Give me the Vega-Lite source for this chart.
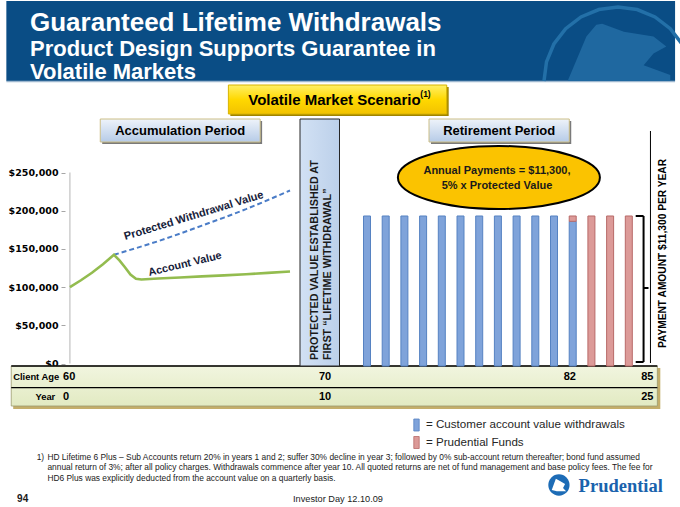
{
  "$schema": "https://vega.github.io/schema/vega-lite/v6.json",
  "width": 680,
  "height": 507,
  "padding": 0,
  "background": "#ffffff",
  "title": {
    "text": "Guaranteed Lifetime Withdrawals",
    "subtitle": ["Product Design Supports Guarantee in", "Volatile Markets"],
    "anchor": "start",
    "frame": "group",
    "dx": 30,
    "offset": -83,
    "font": "Liberation Sans",
    "fontSize": 26,
    "fontWeight": "bold",
    "color": "#ffffff",
    "subtitleFont": "Liberation Sans",
    "subtitleFontSize": 22,
    "subtitleFontWeight": "bold",
    "subtitleColor": "#ffffff",
    "subtitleLineHeight": 23,
    "subtitlePadding": 3
  },
  "config": {"view": {"stroke": null, "fill": "#ffffff"}, "text": {"font": "Liberation Sans"}, "axisX": {"disable": true}},
  "datasets": {
    "lines": [
      {"series": "Account Value", "year": 0, "value": 100000},
      {"series": "Account Value", "year": 0.5, "value": 109000},
      {"series": "Account Value", "year": 1, "value": 118800},
      {"series": "Account Value", "year": 1.5, "value": 130000},
      {"series": "Account Value", "year": 2, "value": 142300},
      {"series": "Account Value", "year": 2.25, "value": 135000},
      {"series": "Account Value", "year": 2.5, "value": 126000},
      {"series": "Account Value", "year": 2.75, "value": 116500},
      {"series": "Account Value", "year": 3, "value": 111000},
      {"series": "Account Value", "year": 3.25, "value": 109900},
      {"series": "Account Value", "year": 4, "value": 111200},
      {"series": "Account Value", "year": 5, "value": 112600},
      {"series": "Account Value", "year": 6, "value": 114000},
      {"series": "Account Value", "year": 7, "value": 115400},
      {"series": "Account Value", "year": 8, "value": 116900},
      {"series": "Account Value", "year": 9, "value": 118600},
      {"series": "Account Value", "year": 10, "value": 120400},
      {"series": "Protected Withdrawal Value", "year": 2, "value": 142300},
      {"series": "Protected Withdrawal Value", "year": 3, "value": 151000},
      {"series": "Protected Withdrawal Value", "year": 4, "value": 160000},
      {"series": "Protected Withdrawal Value", "year": 5, "value": 170000},
      {"series": "Protected Withdrawal Value", "year": 6, "value": 180500},
      {"series": "Protected Withdrawal Value", "year": 7, "value": 191000},
      {"series": "Protected Withdrawal Value", "year": 8, "value": 202000},
      {"series": "Protected Withdrawal Value", "year": 9, "value": 214000},
      {"series": "Protected Withdrawal Value", "year": 10, "value": 226500}
    ],
    "bars": [
      {"year": 11, "source": "Customer account value withdrawals", "amount": 11300},
      {"year": 12, "source": "Customer account value withdrawals", "amount": 11300},
      {"year": 13, "source": "Customer account value withdrawals", "amount": 11300},
      {"year": 14, "source": "Customer account value withdrawals", "amount": 11300},
      {"year": 15, "source": "Customer account value withdrawals", "amount": 11300},
      {"year": 16, "source": "Customer account value withdrawals", "amount": 11300},
      {"year": 17, "source": "Customer account value withdrawals", "amount": 11300},
      {"year": 18, "source": "Customer account value withdrawals", "amount": 11300},
      {"year": 19, "source": "Customer account value withdrawals", "amount": 11300},
      {"year": 20, "source": "Customer account value withdrawals", "amount": 11300},
      {"year": 21, "source": "Customer account value withdrawals", "amount": 11300},
      {"year": 22, "source": "Customer account value withdrawals", "amount": 10900},
      {"year": 22, "source": "Prudential Funds", "amount": 400},
      {"year": 23, "source": "Prudential Funds", "amount": 11300},
      {"year": 24, "source": "Prudential Funds", "amount": 11300},
      {"year": 25, "source": "Prudential Funds", "amount": 11300}
    ]
  },
  "layer": [
    {
      "data": {"values": [{}]},
      "layer": [
        {
          "mark": {"type": "rect", "color": "#0a4d85"},
          "encoding": {
            "x": {"datum": -2.889, "scale": {"type": "linear", "domain": [0, 10, 11, 25], "range": [65, 290, 367, 633], "zero": false, "nice": false}},
            "x2": {"datum": 27.474},
            "y": {"datum": 474513, "scale": {"domain": [-189150, 474513], "zero": false, "nice": false},
              "axis": {"orient": "left", "offset": -65, "values": [0, 50000, 100000, 150000, 200000, 250000], "format": "$,d", "domain": false, "grid": false, "tickSize": 4, "tickColor": "#a6a6a6", "labelPadding": 3, "labelFont": "DejaVu Sans", "labelFontWeight": "bold", "labelFontSize": 9.5, "labelColor": "#000000", "title": null}},
            "y2": {"datum": 369793}
          }
        },
        {
          "mark": {"type": "rule", "color": "#9db7cf", "strokeWidth": 1.5},
          "encoding": {"x": {"datum": -2.889}, "x2": {"datum": 27.474}, "y": {"datum": 369138}}
        },
        {
          "mark": {"type": "point", "shape": "M-0.68,0L-0.427,-0.6L-0.293,-0.76L-0.213,-0.773L0.08,-0.667L0.48,-0.6L0.653,-0.467L0.48,-0.373L0.347,-0.213L0.707,-0.08L0.707,0Z", "size": 21904, "filled": true, "color": "#1f68a0", "opacity": 1},
          "encoding": {"x": {"datum": 24.421}, "y": {"datum": 369793}}
        },
        {
          "mark": {"type": "point", "shape": "M-1,0L-0.966,-0.259L-0.866,-0.5L-0.707,-0.707L-0.5,-0.866L-0.259,-0.966L0,-1L0.259,-0.966L0.5,-0.866L0.707,-0.707L0.866,-0.5L0.966,-0.259L1,0", "size": 21904, "filled": false, "stroke": "#2370a8", "strokeWidth": 3.5, "opacity": 1},
          "encoding": {"x": {"datum": 24.421}, "y": {"datum": 369793}}
        },
        {
          "mark": {"type": "rect", "color": "#c4ae6a"},
          "encoding": {"x": {"datum": -2.578}, "x2": {"datum": 26.684}, "y": {"datum": -5891}, "y2": {"datum": -59560}}
        },
        {
          "mark": {"type": "rect", "fill": {"gradient": "linear", "x1": 0, "y1": 0, "x2": 0, "y2": 1, "stops": [{"offset": 0, "color": "#f1f5df"}, {"offset": 1, "color": "#e2eac2"}]}, "stroke": "#9c9a6e", "strokeWidth": 0.8},
          "encoding": {"x": {"datum": -2.667}, "x2": {"datum": 26.526}, "y": {"datum": -3273}, "y2": {"datum": -55633}}
        },
        {
          "mark": {"type": "rule", "color": "#000000", "strokeWidth": 1.5},
          "encoding": {"x": {"datum": -2.667}, "x2": {"datum": 26.526}, "y": {"datum": -3273}}
        },
        {
          "mark": {"type": "rule", "color": "#000000", "strokeWidth": 1.2},
          "encoding": {"x": {"datum": -2.667}, "x2": {"datum": 26.526}, "y": {"datum": -31678}}
        },
        {
          "mark": {"type": "text", "align": "left", "baseline": "middle", "fontWeight": "bold", "fontSize": 9.4, "color": "#000000"},
          "encoding": {"x": {"datum": -2.578}, "y": {"datum": -17475}, "text": {"value": "Client Age"}}
        },
        {
          "mark": {"type": "text", "align": "right", "baseline": "middle", "fontWeight": "bold", "fontSize": 9.4, "color": "#000000"},
          "encoding": {"x": {"datum": -0.667}, "y": {"datum": -43721}, "text": {"value": "Year"}}
        },
        {
          "mark": {"type": "text", "align": "left", "baseline": "middle", "fontWeight": "bold", "fontSize": 11, "color": "#000000"},
          "encoding": {"x": {"datum": -0.311}, "y": {"datum": -17475}, "text": {"value": "60"}}
        },
        {
          "mark": {"type": "text", "align": "left", "baseline": "middle", "fontWeight": "bold", "fontSize": 11, "color": "#000000"},
          "encoding": {"x": {"datum": -0.311}, "y": {"datum": -43721}, "text": {"value": "0"}}
        },
        {
          "mark": {"type": "text", "align": "center", "baseline": "middle", "fontWeight": "bold", "fontSize": 11, "color": "#000000"},
          "encoding": {"x": {"datum": 10.455}, "y": {"datum": -17475}, "text": {"value": "70"}}
        },
        {
          "mark": {"type": "text", "align": "center", "baseline": "middle", "fontWeight": "bold", "fontSize": 11, "color": "#000000"},
          "encoding": {"x": {"datum": 10.455}, "y": {"datum": -43721}, "text": {"value": "10"}}
        },
        {
          "mark": {"type": "text", "align": "center", "baseline": "middle", "fontWeight": "bold", "fontSize": 11, "color": "#000000"},
          "encoding": {"x": {"datum": 21.842}, "y": {"datum": -17475}, "text": {"value": "82"}}
        },
        {
          "mark": {"type": "text", "align": "right", "baseline": "middle", "fontWeight": "bold", "fontSize": 11, "color": "#000000"},
          "encoding": {"x": {"datum": 26.316}, "y": {"datum": -17475}, "text": {"value": "85"}}
        },
        {
          "mark": {"type": "text", "align": "right", "baseline": "middle", "fontWeight": "bold", "fontSize": 11, "color": "#000000"},
          "encoding": {"x": {"datum": 26.316}, "y": {"datum": -43721}, "text": {"value": "25"}}
        },
        {
          "mark": {"type": "rect", "color": "#a08400"},
          "encoding": {"x": {"datum": 7.289}, "x2": {"datum": 15.368}, "y": {"datum": 361939}, "y2": {"datum": 323978}}
        },
        {
          "mark": {"type": "rect", "fill": {"gradient": "linear", "x1": 0, "y1": 0, "x2": 0, "y2": 1, "stops": [{"offset": 0, "color": "#fff066"}, {"offset": 0.5, "color": "#ffd800"}, {"offset": 1, "color": "#f2c200"}]}, "stroke": "#d8b400", "strokeWidth": 1},
          "encoding": {"x": {"datum": 7.2}, "x2": {"datum": 15.263}, "y": {"datum": 364557}, "y2": {"datum": 326596}}
        },
        {
          "mark": {"type": "text", "align": "center", "baseline": "middle", "fontWeight": "bold", "fontSize": 15, "color": "#000000"},
          "encoding": {"x": {"datum": 10.577}, "y": {"datum": 345576}, "text": {"value": "Volatile Market Scenario"}}
        },
        {
          "mark": {"type": "text", "align": "left", "baseline": "middle", "fontWeight": "bold", "fontSize": 8.5, "color": "#000000"},
          "encoding": {"x": {"datum": 13.85}, "y": {"datum": 352776}, "text": {"value": "(1)"}}
        },
        {
          "mark": {"type": "rect", "color": "#7a7a7a"},
          "encoding": {"x": {"datum": 1.467}, "x2": {"datum": 8.733}, "y": {"datum": 317433}, "y2": {"datum": 287326}}
        },
        {
          "mark": {"type": "rect", "fill": {"gradient": "linear", "x1": 0, "y1": 0, "x2": 0, "y2": 1, "stops": [{"offset": 0, "color": "#eef3fa"}, {"offset": 1, "color": "#b6cbe7"}]}, "stroke": "#cdbf86", "strokeWidth": 1},
          "encoding": {"x": {"datum": 1.378}, "x2": {"datum": 8.644}, "y": {"datum": 320050}, "y2": {"datum": 289944}}
        },
        {
          "mark": {"type": "text", "align": "center", "baseline": "middle", "fontWeight": "bold", "fontSize": 13, "color": "#000000"},
          "encoding": {"x": {"datum": 5.011}, "y": {"datum": 304997}, "text": {"value": "Accumulation Period"}}
        },
        {
          "mark": {"type": "rect", "color": "#7a7a7a"},
          "encoding": {"x": {"datum": 14.421}, "x2": {"datum": 21.921}, "y": {"datum": 317433}, "y2": {"datum": 287326}}
        },
        {
          "mark": {"type": "rect", "fill": {"gradient": "linear", "x1": 0, "y1": 0, "x2": 0, "y2": 1, "stops": [{"offset": 0, "color": "#eef3fa"}, {"offset": 1, "color": "#b6cbe7"}]}, "stroke": "#cdbf86", "strokeWidth": 1},
          "encoding": {"x": {"datum": 14.316}, "x2": {"datum": 21.816}, "y": {"datum": 320050}, "y2": {"datum": 289944}}
        },
        {
          "mark": {"type": "text", "align": "center", "baseline": "middle", "fontWeight": "bold", "fontSize": 13, "color": "#000000"},
          "encoding": {"x": {"datum": 18.066}, "y": {"datum": 304997}, "text": {"value": "Retirement Period"}}
        },
        {
          "mark": {"type": "rect", "fill": {"gradient": "linear", "x1": 0, "y1": 0, "x2": 1, "y2": 0, "stops": [{"offset": 0, "color": "#d2e1f4"}, {"offset": 1, "color": "#bcd0ea"}]}, "stroke": "#262626", "strokeWidth": 1},
          "encoding": {"x": {"datum": 10.13}, "x2": {"datum": 10.643}, "y": {"datum": 320050}, "y2": {"datum": -3273}}
        },
        {
          "mark": {"type": "text", "align": "left", "baseline": "middle", "angle": 270, "fontWeight": "bold", "fontSize": 10.8, "color": "#1a1a1a"},
          "encoding": {"x": {"datum": 10.325}, "y": {"datum": 4582}, "text": {"value": "PROTECTED VALUE ESTABLISHED AT"}}
        },
        {
          "mark": {"type": "text", "align": "left", "baseline": "middle", "angle": 270, "fontWeight": "bold", "fontSize": 10.8, "color": "#1a1a1a"},
          "encoding": {"x": {"datum": 10.494}, "y": {"datum": 4582}, "text": {"value": "FIRST “LIFETIME WITHDRAWAL”"}}
        },
        {
          "mark": {"type": "point", "shape": "M-1,0C-1,-0.172,-0.552,-0.312,0,-0.312C0.552,-0.312,1,-0.172,1,0C1,0.172,0.552,0.312,0,0.312C-0.552,0.312,-1,0.172,-1,0Z", "size": 40804, "filled": true, "fill": "#fbc300", "stroke": "#000000", "strokeWidth": 2, "opacity": 1},
          "encoding": {"x": {"datum": 18.053}, "y": {"datum": 243474}}
        },
        {
          "mark": {"type": "text", "align": "center", "baseline": "middle", "fontWeight": "bold", "fontSize": 11, "color": "#1a1a1a"},
          "encoding": {"x": {"datum": 17.95}, "y": {"datum": 251982}, "text": {"value": "Annual Payments = $11,300,"}}
        },
        {
          "mark": {"type": "text", "align": "center", "baseline": "middle", "fontWeight": "bold", "fontSize": 11, "color": "#1a1a1a"},
          "encoding": {"x": {"datum": 17.95}, "y": {"datum": 232348}, "text": {"value": "5% x Protected Value"}}
        },
        {
          "mark": {"type": "text", "align": "center", "baseline": "middle", "angle": 270, "fontWeight": "bold", "fontSize": 10.2, "color": "#000000"},
          "encoding": {"x": {"datum": 26.842}, "y": {"datum": 143990}, "text": {"value": "PAYMENT AMOUNT $11,300 PER YEAR"}}
        },
        {
          "mark": {"type": "rule", "color": "#000000", "strokeWidth": 2},
          "encoding": {"x": {"datum": 25.789}, "y": {"datum": 193078}, "y2": {"datum": 1964}}
        },
        {
          "mark": {"type": "rule", "color": "#000000", "strokeWidth": 2},
          "encoding": {"x": {"datum": 25.368}, "x2": {"datum": 25.789}, "y": {"datum": 193078}}
        },
        {
          "mark": {"type": "rule", "color": "#000000", "strokeWidth": 2},
          "encoding": {"x": {"datum": 25.368}, "x2": {"datum": 25.789}, "y": {"datum": 1964}}
        },
        {
          "mark": {"type": "rule", "color": "#000000", "strokeWidth": 2},
          "encoding": {"x": {"datum": 25.789}, "x2": {"datum": 26.053}, "y": {"datum": 98830}}
        },
        {
          "mark": {"type": "rule", "color": "#000000", "strokeWidth": 1},
          "encoding": {"x": {"datum": 26.158}, "y": {"datum": 304328}, "y2": {"datum": 655}}
        },
        {
          "mark": {"type": "rule", "color": "#b5b5b5", "strokeWidth": 1},
          "encoding": {"x": {"datum": 0}, "y": {"datum": 0}, "y2": {"datum": 250000}}
        },
        {
          "data": {"name": "lines"},
          "transform": [{"filter": "datum.series === 'Protected Withdrawal Value'"}],
          "mark": {"type": "line", "color": "#4a7cc7", "strokeWidth": 2, "strokeDash": [5, 3]},
          "encoding": {
            "x": {"field": "year", "type": "quantitative"},
            "y": {"field": "value", "type": "quantitative"}
          }
        },
        {
          "data": {"name": "lines"},
          "transform": [{"filter": "datum.series === 'Account Value'"}],
          "mark": {"type": "line", "color": "#93bc4f", "strokeWidth": 2.6},
          "encoding": {
            "x": {"field": "year", "type": "quantitative"},
            "y": {"field": "value", "type": "quantitative"}
          }
        },
        {
          "mark": {"type": "text", "align": "center", "baseline": "middle", "angle": 343, "fontWeight": "bold", "fontSize": 11.1, "color": "#16213a"},
          "encoding": {"x": {"datum": 5.631}, "y": {"datum": 193078}, "text": {"value": "Protected  Withdrawal Value"}}
        },
        {
          "mark": {"type": "text", "align": "center", "baseline": "middle", "angle": 346.5, "fontWeight": "bold", "fontSize": 10.9, "color": "#16213a"},
          "encoding": {"x": {"datum": 5.231}, "y": {"datum": 129853}, "text": {"value": "Account Value"}}
        },
        {
          "mark": {"type": "text", "align": "left", "baseline": "middle", "fontSize": 8.4, "color": "#1a1a1a"},
          "encoding": {"x": {"datum": -1.511}, "y": {"datum": -122000}, "text": {"value": "1)"}}
        },
        {
          "mark": {"type": "text", "align": "left", "baseline": "middle", "fontSize": 8.4, "color": "#1a1a1a"},
          "encoding": {"x": {"datum": -1.022}, "y": {"datum": -122000}, "text": {"value": "HD Lifetime 6 Plus – Sub Accounts return 20% in years 1 and 2; suffer 30% decline in year 3; followed by 0% sub-account return thereafter; bond fund assumed"}}
        },
        {
          "mark": {"type": "text", "align": "left", "baseline": "middle", "fontSize": 8.4, "color": "#1a1a1a"},
          "encoding": {"x": {"datum": -1.022}, "y": {"datum": -135743}, "text": {"value": "annual return of 3%; after all policy charges. Withdrawals commence after year 10. All quoted returns are net of fund management and base policy fees. The fee for"}}
        },
        {
          "mark": {"type": "text", "align": "left", "baseline": "middle", "fontSize": 8.4, "color": "#1a1a1a"},
          "encoding": {"x": {"datum": -1.022}, "y": {"datum": -149487}, "text": {"value": "HD6 Plus was explicitly deducted from the account value on a quarterly basis."}}
        },
        {
          "mark": {"type": "text", "align": "left", "baseline": "middle", "fontSize": 10, "fontWeight": "bold", "color": "#1a1a1a"},
          "encoding": {"x": {"datum": -2.4}, "y": {"datum": -177000}, "text": {"value": "94"}}
        },
        {
          "mark": {"type": "text", "align": "center", "baseline": "middle", "fontSize": 9.2, "color": "#1a1a1a"},
          "encoding": {"x": {"datum": 10.623}, "y": {"datum": -177000}, "text": {"value": "Investor Day 12.10.09"}}
        },
        {
          "mark": {"type": "point", "shape": "circle", "size": 452, "filled": true, "color": "#1d6cb6", "opacity": 1},
          "encoding": {"x": {"datum": 21.263}, "y": {"datum": -159044}}
        },
        {
          "mark": {"type": "point", "shape": "M-0.7,0.5L-0.3,-0.6L0.1,-0.4L0.6,-0.1L0.4,0.3L0.7,0.6L-0.2,0.6Z", "size": 420, "filled": true, "color": "#ffffff", "opacity": 1},
          "encoding": {"x": {"datum": 21.263}, "y": {"datum": -159044}}
        },
        {
          "mark": {"type": "text", "align": "left", "baseline": "middle", "font": "Liberation Serif", "fontSize": 18.5, "fontWeight": "bold", "color": "#1a63ad"},
          "encoding": {"x": {"datum": 22.316}, "y": {"datum": -160353}, "text": {"value": "Prudential"}}
        }
      ]
    },
    {
      "data": {"name": "bars"},
      "mark": {"type": "bar", "size": 7, "strokeWidth": 1},
      "encoding": {
        "x": {"field": "year", "type": "quantitative"},
        "y": {"field": "amount", "type": "quantitative", "stack": "zero", "scale": {"domain": [-10697, 27496], "zero": false, "nice": false}, "axis": null},
        "order": {"field": "source", "sort": "ascending"},
        "color": {
          "field": "source", "type": "nominal",
          "scale": {"domain": ["Customer account value withdrawals", "Prudential Funds"], "range": ["#7fa3da", "#dc9a98"]},
          "legend": {"orient": "none", "legendX": 410, "legendY": 417.5, "title": null, "symbolType": "M-0.45,-1H0.45V1H-0.45Z", "symbolSize": 144, "symbolStrokeColor": "#55637a", "symbolStrokeWidth": 0.8, "labelExpr": "'= ' + datum.label", "labelFont": "Liberation Sans", "labelFontSize": 11.6, "labelColor": "#262626", "labelLimit": 400, "rowPadding": 0.5, "labelOffset": 3}
        },
        "stroke": {
          "field": "source", "type": "nominal",
          "scale": {"domain": ["Customer account value withdrawals", "Prudential Funds"], "range": ["#5682c2", "#b86a68"]},
          "legend": null
        }
      }
    }
  ],
  "resolve": {"scale": {"y": "independent"}}
}
